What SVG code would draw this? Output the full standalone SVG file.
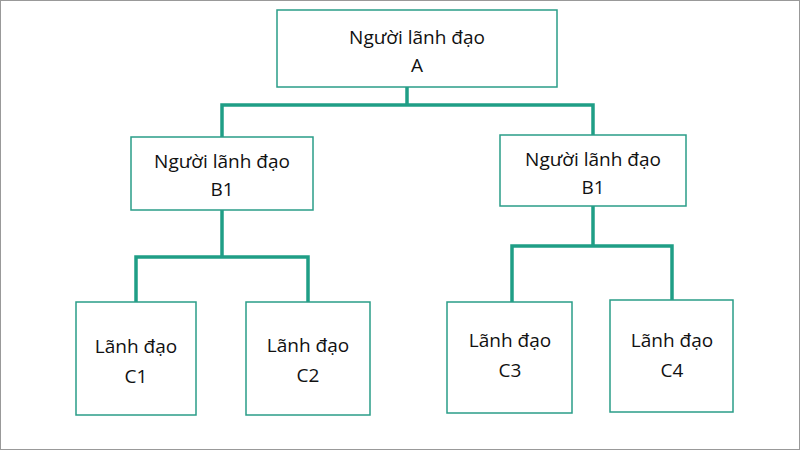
<svg xmlns="http://www.w3.org/2000/svg" width="800" height="450" viewBox="0 0 800 450">
<style>
.b{fill:#fff;stroke:#2a9d88;stroke-width:1.5}
.t{font-family:"Open Sans","Liberation Sans",sans-serif;font-size:19px;fill:#111;text-anchor:middle}
.c{fill:none;stroke:#1f9e86;stroke-width:3.5}
</style>
<rect x="0.5" y="0.5" width="799" height="449" fill="#fff" stroke="#999"/>
<g id="connectors">
<path class="c" d="M407 87V105M222 137V105H593V135"/>
<path class="c" d="M222 210V257M136 302V257H308V302"/>
<path class="c" d="M593 206V246M512 302V246H672V300"/>
</g>
<g id="A"><rect class="b" x="277" y="10" width="280" height="77"/><text class="t" x="417" y="44">Người lãnh đạo</text><text class="t" x="417" y="72">A</text></g>
<g id="B1L"><rect class="b" x="131" y="137" width="182" height="73"/><text class="t" x="222" y="168">Người lãnh đạo</text><text class="t" x="222" y="196">B1</text></g>
<g id="B1R"><rect class="b" x="500" y="135" width="186" height="71"/><text class="t" x="593" y="166">Người lãnh đạo</text><text class="t" x="593" y="194">B1</text></g>
<g id="C1"><rect class="b" x="76" y="302" width="120" height="113"/><text class="t" x="136" y="353">Lãnh đạo</text><text class="t" x="136" y="383">C1</text></g>
<g id="C2"><rect class="b" x="246" y="302" width="124" height="113"/><text class="t" x="308" y="352">Lãnh đạo</text><text class="t" x="308" y="382">C2</text></g>
<g id="C3"><rect class="b" x="447" y="302" width="125" height="111"/><text class="t" x="510" y="347">Lãnh đạo</text><text class="t" x="510" y="377">C3</text></g>
<g id="C4"><rect class="b" x="610" y="300" width="123" height="112"/><text class="t" x="672" y="347">Lãnh đạo</text><text class="t" x="672" y="377">C4</text></g>
</svg>
